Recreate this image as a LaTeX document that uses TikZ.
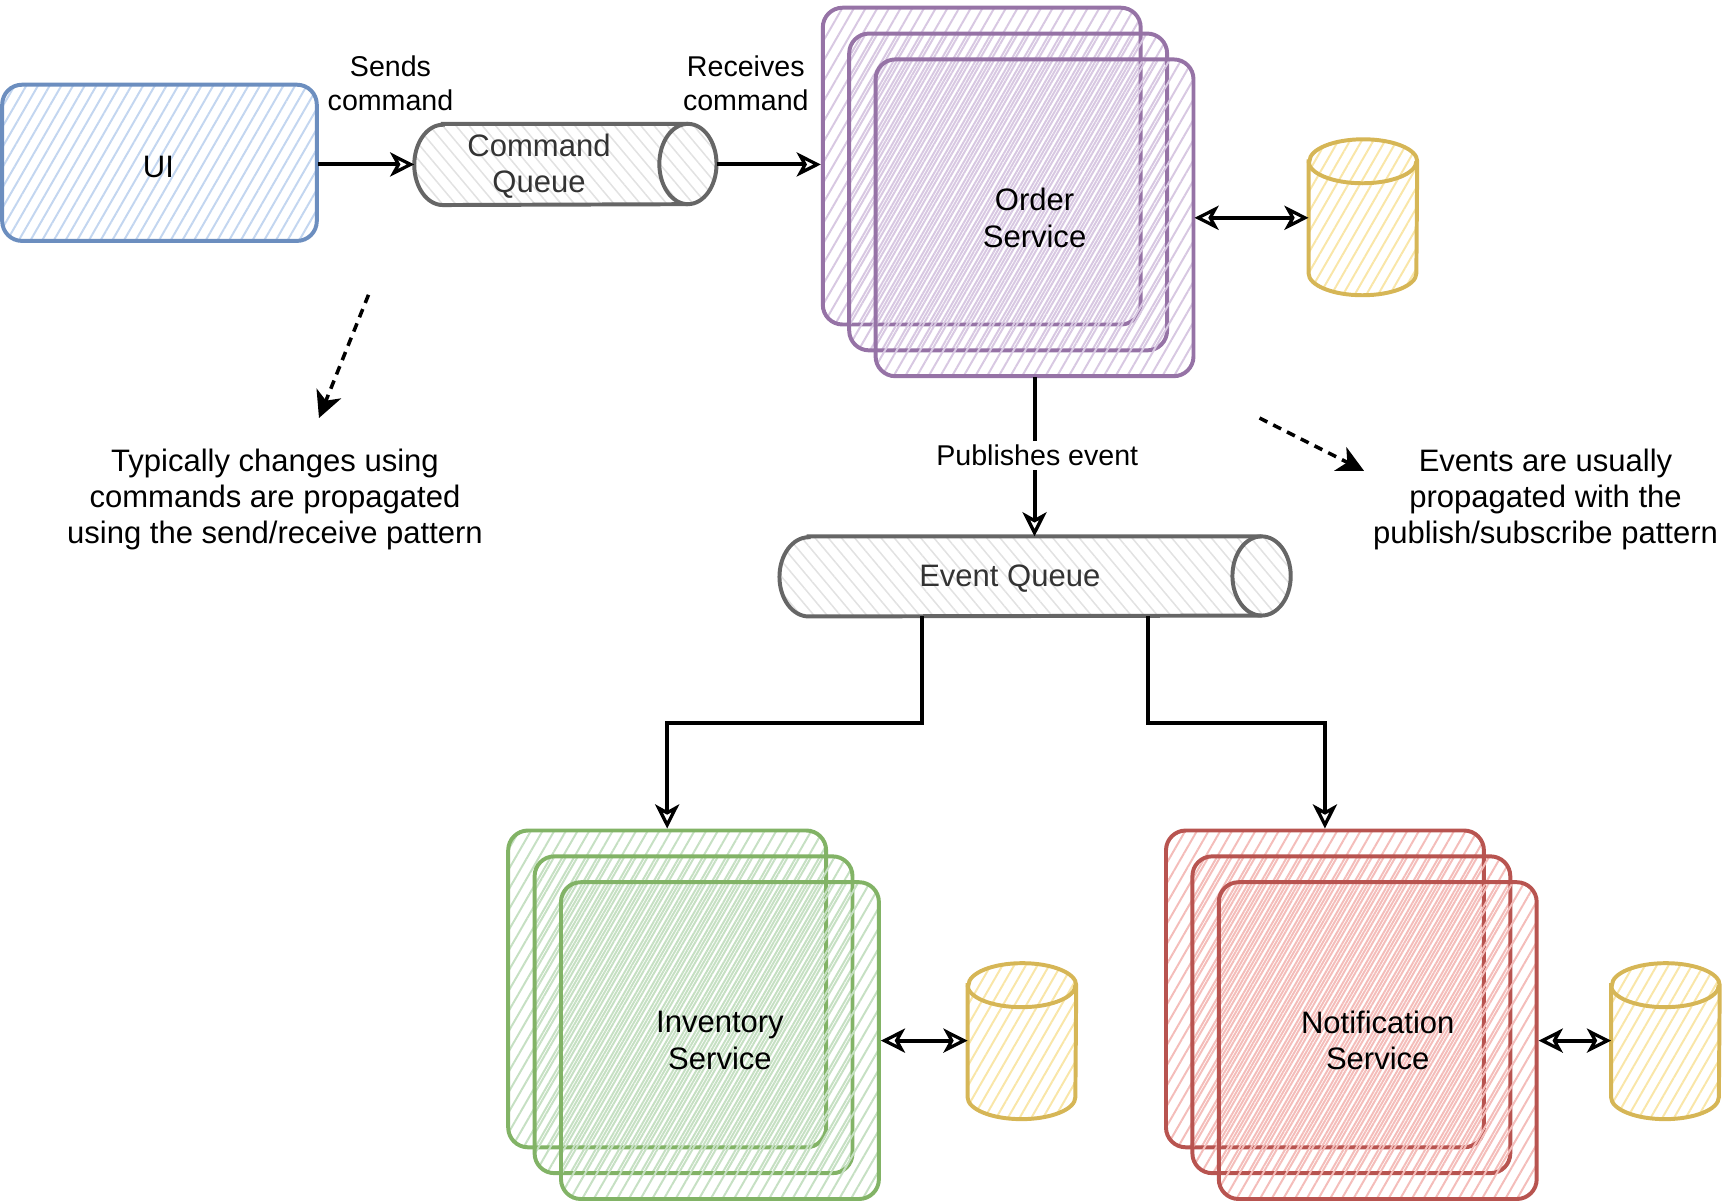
\documentclass[tikz,border=0pt]{standalone}
\usepackage{fontspec}
\setmainfont{Liberation Sans}
\usetikzlibrary{arrows.meta,patterns.meta,calc}
\definecolor{bluS}{HTML}{6C8EBF}\definecolor{bluH}{HTML}{C3D6F0}
\definecolor{purS}{HTML}{9673A6}\definecolor{purH}{HTML}{D8C8E2}
\definecolor{grnS}{HTML}{82B366}\definecolor{grnH}{HTML}{C6E0C3}
\definecolor{redS}{HTML}{B85450}\definecolor{redH}{HTML}{F4BDBA}
\definecolor{yelS}{HTML}{D6B656}\definecolor{yelH}{HTML}{F9E6A8}
\definecolor{gryS}{HTML}{666666}\definecolor{gryH}{HTML}{E2E2E2}
\definecolor{txtG}{HTML}{333333}
\tikzset{
  hatchA/.style={pattern={Lines[angle=60,distance=4.6pt,line width=0.9pt]}},
  hatchB/.style={pattern={Lines[angle=60,distance=4.6pt,line width=0.9pt,xshift=1.5pt]}},
  hatchC/.style={pattern={Lines[angle=60,distance=4.6pt,line width=0.9pt,xshift=3pt]}},
  hatchQ/.style={pattern={Lines[angle=-50,distance=4.6pt,line width=0.7pt]}},
  svcbox/.style={rectangle, rounded corners=9pt, minimum width=144.5pt, minimum height=144pt, line width=1.8pt, inner sep=0pt},
  holder/.style={rectangle, inner sep=0pt, draw=none},
  lbl/.style={align=center, font=\fontsize{14.1}{16.5}\selectfont, inner sep=0pt},
  small/.style={align=center, font=\fontsize{13}{15.5}\selectfont, inner sep=0pt},
  tipo/.tip={Stealth[open,length=11pt,width=11pt,inset=3pt,line width=1.5pt]},
  conn/.style={line width=1.8pt, -tipo},
  biconn/.style={line width=1.8pt, tipo-tipo},
  dasharrow/.style={line width=1.6pt, dash pattern=on 4pt off 3pt, -{Stealth[length=12pt,width=12pt,inset=3.5pt]}},
}
\newcommand{\svcstack}[6]{%
  \node[svcbox, draw=#4, pattern color=#5, hatchA] (#10) at (#2+144.5, #3+144) {};
  \node[svcbox, draw=#4, pattern color=#5, hatchB] (#11) at (#2+168.5, #3+167.5) {};
  \node[svcbox, draw=#4, pattern color=#5, hatchC] (#12) at (#2+192.5, #3+191) {};
  \node[lbl] at (#12.center) {#6};
}
\newcommand{\dbcyl}[2]{% #1 name, #2 center
  \node[holder, minimum width=49pt, minimum height=70.5pt] (#1) at (#2) {};
  \draw[draw=yelS, line width=1.8pt, pattern color=yelH, hatchA]
    ([yshift=-10pt]#1.north west) -- ([yshift=10pt]#1.south west)
    arc[start angle=180, end angle=360, x radius=24.5pt, y radius=10pt]
    -- ([yshift=-10pt]#1.north east)
    arc[start angle=0, end angle=180, x radius=24.5pt, y radius=10pt] -- cycle;
  \draw[draw=yelS, line width=1.8pt] ([yshift=-10pt]#1.north west)
    arc[start angle=180, end angle=360, x radius=24.5pt, y radius=10pt];
}
\newcommand{\hcyl}[5]{% #1 name, #2 center, #3 width(pt), #4 height(pt), #5 rx(pt)
  \node[holder, minimum width=#3, minimum height=#4] (#1) at (#2) {};
  \draw[draw=gryS, line width=1.8pt, pattern color=gryH, hatchQ]
    ([xshift=#5]#1.north west) -- ([xshift=-#5]#1.north east)
    arc[start angle=90, end angle=-90, x radius=#5, y radius=#4/2]
    -- ([xshift=#5]#1.south west)
    arc[start angle=270, end angle=90, x radius=#5, y radius=#4/2] -- cycle;
  \draw[draw=gryS, line width=1.8pt] ([xshift=-#5]#1.north east)
    arc[start angle=90, end angle=270, x radius=#5, y radius=#4/2];
}
\begin{document}
\begin{tikzpicture}[x=0.5pt, y=-0.5pt]
\useasboundingbox (0,0) rectangle (1568.2,1094.5);

% UI
\node[svcbox, minimum width=143pt, minimum height=71pt, draw=bluS, pattern color=bluH, hatchA] (ui) at (145,148) {};
\node[lbl] at (144,152) {UI};

% Command queue
\hcyl{cq}{514,149.5}{137pt}{36.5pt}{13pt}
\node[lbl, text=txtG] at (490,151) {Command\\Queue};

% Order service
\svcstack{ord}{748}{7}{purS}{purH}{Order\\Service}
\dbcyl{odb}{1239,197.5}

% Event queue
\hcyl{eq}{941,524}{232pt}{36pt}{13.25pt}
\node[lbl, text=txtG] at (918,526) {Event Queue};

% Inventory and Notification
\svcstack{inv}{462}{755}{grnS}{grnH}{Inventory\\Service}
\dbcyl{idb}{929,946.5}
\svcstack{ntf}{1060}{755}{redS}{redH}{Notification\\Service}
\dbcyl{ndb}{1514,946.5}

% connectors
\draw[conn] (ui.east |- cq.west) -- (cq.west);
\draw[conn] (cq.east) -- (cq.east -| ord0.west);
\node[small] at (355,75.5) {Sends\\command};
\node[small] at (678,75.5) {Receives\\command};

\draw[biconn] (ord2.east) -- (ord2.east -| odb.west);
\draw[biconn] (inv2.east) -- (inv2.east -| idb.west);
\draw[biconn] (ntf2.east) -- (ntf2.east -| ndb.west);

\draw[conn] (ord2.south) -- (ord2.south |- eq.north);
\node[small, fill=white, inner sep=2pt] at (943,414) {Publishes event};

\draw[conn] ([xshift=-51.5pt]eq.south) -- ++(0,97) -| (inv0.north);
\draw[conn] ([xshift=51.5pt]eq.south) -- ++(0,97) -| (ntf0.north);

% notes
\coordinate (la) at (335,268);
\coordinate (lb) at (290,380);
\draw[dasharrow] (la) -- (lb);
\node[lbl] (lnote) at (250,454) {Typically changes using\\commands are propagated\\using the send/receive pattern};
\coordinate (ra) at (1145,380);
\coordinate (rb) at (1240,428);
\draw[dasharrow] (ra) -- (rb);
\node[lbl] (rnote) at (1405,454) {Events are usually\\propagated with the\\publish/subscribe pattern};
\end{tikzpicture}
\end{document}
